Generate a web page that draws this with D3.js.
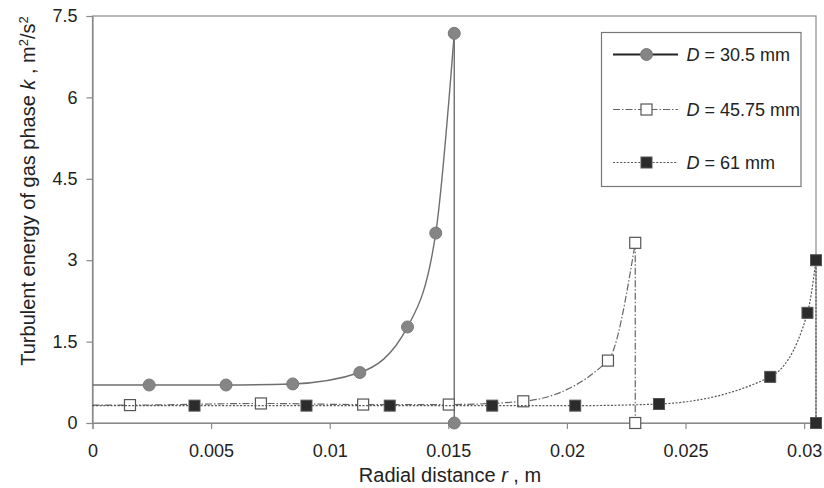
<!DOCTYPE html>
<html>
<head>
<meta charset="utf-8">
<script src="https://cdn.jsdelivr.net/npm/d3@7"></script>
<style>
  body { margin: 0; background: #fff; }
  svg { font-family: Arial, "Liberation Sans", sans-serif; }
</style>
</head>
<body>
<script>
// radial distance r (m) and turbulent energy k (m2/s2); first point is the axis start, last is the wall drop
const r305 = [0, 0.00239, 0.00563, 0.00844, 0.01127, 0.01328, 0.01447, 0.01525, 0.01525];
const k305 = [0.70, 0.70, 0.70, 0.72, 0.93, 1.77, 3.50, 7.18, 0];

const r4575 = [0, 0.00158, 0.0071, 0.01141, 0.01502, 0.01816, 0.02173, 0.02288, 0.02288];
const k4575 = [0.33, 0.33, 0.36, 0.34, 0.34, 0.40, 1.15, 3.32, 0];

const r61 = [0, 0.0043, 0.00902, 0.01253, 0.01685, 0.02035, 0.02388, 0.02857, 0.03014, 0.0305, 0.0305];
const k61 = [0.32, 0.32, 0.32, 0.32, 0.32, 0.32, 0.35, 0.85, 2.03, 3.00, 0];

const seriesNames = ["30.5 mm", "45.75 mm", "61 mm"];
const xTicks = [0, 0.005, 0.01, 0.015, 0.02, 0.025, 0.03];
const yTicks = [0, 1.5, 3, 4.5, 6, 7.5];

const W = 824, H = 488;
const margin = { top: 16, right: 8, bottom: 65, left: 92.5 };

const svg = d3.select("body").append("svg")
    .attr("width", W)
    .attr("height", H);

const x = d3.scaleLinear().domain([0, 0.0305]).range([margin.left, W - margin.right]);
const y = d3.scaleLinear().domain([0, 7.5]).range([H - margin.bottom, margin.top]);

const axisColor = "#8a8a8a";
const textColor = "#222";

// frame
svg.append("rect")
    .attr("x", x(0)).attr("y", y(7.5))
    .attr("width", x(0.0305) - x(0)).attr("height", y(0) - y(7.5))
    .attr("fill", "none").attr("stroke", axisColor).attr("stroke-width", 1.2);

// x axis
const gx = svg.append("g")
    .attr("transform", "translate(0," + y(0) + ")")
    .call(d3.axisBottom(x).tickValues(xTicks).tickFormat(d => String(d)).tickSize(6).tickPadding(15));
// y axis
const gy = svg.append("g")
    .attr("transform", "translate(" + x(0) + ",0)")
    .call(d3.axisLeft(y).tickValues(yTicks).tickFormat(d => String(d)).tickSize(6).tickPadding(9));

[gx, gy].forEach(g => {
    g.selectAll("path, line").attr("stroke", axisColor).attr("stroke-width", 1.2);
    g.selectAll("text").attr("fill", textColor).style("font-size", "18px");
});

// axis titles
const xt = svg.append("text")
    .attr("x", 450).attr("y", 482)
    .attr("text-anchor", "middle")
    .attr("fill", textColor)
    .style("font-size", "20px");
xt.append("tspan").text("Radial distance ");
xt.append("tspan").attr("font-style", "italic").text("r");
xt.append("tspan").text(" , m");

const yt = svg.append("text")
    .attr("transform", "translate(35,191) rotate(-90)")
    .attr("text-anchor", "middle")
    .attr("fill", textColor)
    .style("font-size", "20px");
yt.append("tspan").text("Turbulent energy of gas phase ");
yt.append("tspan").attr("font-style", "italic").text("k");
yt.append("tspan").text(" , m");
yt.append("tspan").attr("baseline-shift", "super").style("font-size", "13px").text("2");
yt.append("tspan").text("/s");
yt.append("tspan").attr("baseline-shift", "super").style("font-size", "13px").text("2");

const series = [
    { name: seriesNames[0], r: r305, k: k305, dash: null, color: "#6e6e6e", width: 1.4, marker: "circle" },
    { name: seriesNames[1], r: r4575, k: k4575, dash: "7,2,1.5,2", color: "#666", width: 1.2, marker: "open" },
    { name: seriesNames[2], r: r61, k: k61, dash: "2,1.6", color: "#555", width: 1.2, marker: "filled" }
];

const curve = d3.line().x(d => x(d[0])).y(d => y(d[1])).curve(d3.curveMonotoneX);
const straight = d3.line().x(d => x(d[0])).y(d => y(d[1]));

function drawMarker(g, type, cx, cy) {
    if (type === "circle") {
        g.append("circle").attr("cx", cx).attr("cy", cy).attr("r", 6)
            .attr("fill", "#858585").attr("stroke", "#7a7a7a");
    } else if (type === "open") {
        g.append("rect").attr("x", cx - 5.5).attr("y", cy - 5.5).attr("width", 11).attr("height", 11)
            .attr("fill", "#fff").attr("stroke", "#555").attr("stroke-width", 1.2);
    } else {
        g.append("rect").attr("x", cx - 5.5).attr("y", cy - 5.5).attr("width", 11).attr("height", 11)
            .attr("fill", "#2b2b2b").attr("stroke", "#555").attr("stroke-width", 1);
    }
}

series.forEach(s => {
    const pts = s.r.map((r, i) => [r, s.k[i]]);
    const n = pts.length;
    const g = svg.append("g");
    g.append("path")
        .attr("d", curve(pts.slice(0, n - 1)))
        .attr("fill", "none").attr("stroke", s.color).attr("stroke-width", s.width)
        .attr("stroke-dasharray", s.dash);
    g.append("path")
        .attr("d", straight(pts.slice(n - 2)))
        .attr("fill", "none").attr("stroke", s.color).attr("stroke-width", s.width)
        .attr("stroke-dasharray", s.dash);
    pts.slice(1).forEach(p => drawMarker(g, s.marker, x(p[0]), y(p[1])));
});

// legend
const lg = svg.append("g");
lg.append("rect")
    .attr("x", 601.5).attr("y", 32.5).attr("width", 199.5).attr("height", 154)
    .attr("fill", "#fff").attr("stroke", "#777").attr("stroke-width", 1.2);
series.forEach((s, i) => {
    const yy = [54.5, 109.5, 162.5][i];
    lg.append("line")
        .attr("x1", 613).attr("x2", 678).attr("y1", yy).attr("y2", yy)
        .attr("stroke", i === 0 ? "#222" : s.color).attr("stroke-width", i === 0 ? 2 : s.width)
        .attr("stroke-dasharray", s.dash);
    drawMarker(lg, s.marker, 646.5, yy);
    const t = lg.append("text")
        .attr("x", 686.5).attr("y", yy + 6.5)
        .attr("fill", textColor)
        .style("font-size", "18px");
    t.append("tspan").attr("font-style", "italic").text("D");
    t.append("tspan").text(" = " + s.name);
});
</script>
</body>
</html>
